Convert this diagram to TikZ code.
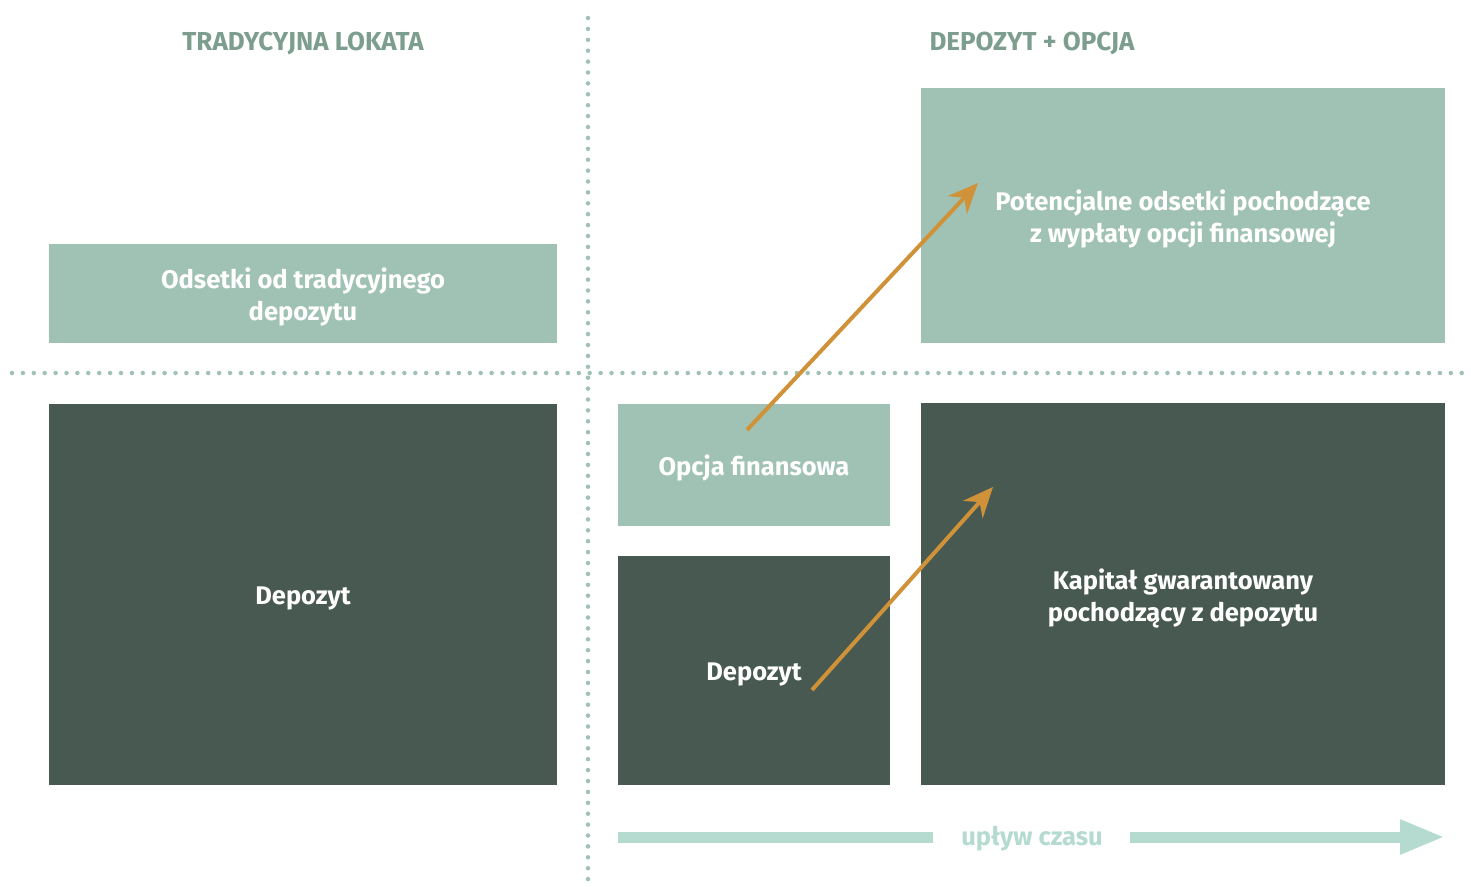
\documentclass[tikz,border=0pt]{standalone}
\usepackage{fontspec}
\setmainfont{Fira Sans}
\usetikzlibrary{arrows.meta}
\definecolor{darkg}{HTML}{475950}
\definecolor{lightg}{HTML}{A0C2B4}
\definecolor{titleg}{HTML}{7D9E8F}
\definecolor{dotg}{HTML}{9FC2B4}
\definecolor{orangeA}{HTML}{D09238}
\definecolor{timeg}{HTML}{B5DAD0}
\tikzset{
  box/.style={inner sep=0pt, align=center, text=white, font=\fontsize{25.5}{32}\selectfont\bfseries},
  darkbox/.style={box, fill=darkg},
  lightbox/.style={box, fill=lightg},
  titletext/.style={text=titleg, font=\fontsize{26}{30}\selectfont\bfseries},
  dotline/.style={draw=dotg, line width=4.5pt, line cap=round, dash pattern=on 0pt off 10.9pt},
  growarrow/.style={draw=orangeA, line width=4pt, -{Stealth[length=30pt,width=26pt]}},
  timeline/.style={draw=timeg, line width=11pt},
}
\begin{document}
\begin{tikzpicture}[x=1pt,y=-1pt]
\useasboundingbox (0,0) rectangle (1471,886);
% dotted separators
\coordinate (vtop) at (588,18);
\coordinate (vbot) at (588,886);
\coordinate (hl) at (12,373);
\coordinate (hr) at (1471,373);
\draw[dotline] (vtop) -- (vbot);
\draw[dotline] (hl) -- (hr);
% titles
\node[titletext] (t1) at (303,43) {TRADYCYJNA LOKATA};
\node[titletext] (t2) at (1032,43) {DEPOZYT + OPCJA};
% left
\node[lightbox, minimum width=508, minimum height=99] (odsetki) at (303,293.5) {};
\node[box] (odsetkit) at (303,296.5) {Odsetki od tradycyjnego\\depozytu};
\node[darkbox, minimum width=508, minimum height=381] (dep1) at (303,594.5) {};
\node[box] (dep1t) at (303,598) {Depozyt};
% right middle
\node[lightbox, minimum width=272, minimum height=122] (opcja) at (754,465) {};
\node[box] (opcjat) at (754,468) {Opcja finansowa};
\node[darkbox, minimum width=272, minimum height=229] (dep2) at (754,670.5) {};
\node[box] (dep2t) at (754,674) {Depozyt};
% right
\node[lightbox, minimum width=524, minimum height=255] (pot) at (1183,215.5) {};
\node[box] (pott) at (1183,219) {Potencjalne odsetki pochodzące\\z wypłaty opcji finansowej};
\node[darkbox, minimum width=524, minimum height=382] (kap) at (1183,594) {};
\node[box] (kapt) at (1183,598) {Kapitał gwarantowany\\pochodzący z depozytu};
% orange arrows
\coordinate (a1s) at (747,430);
\coordinate (a1e) at (978,183);
\coordinate (a2s) at (812,690);
\coordinate (a2e) at (993,487);
\draw[growarrow] (a1s) -- (a1e);
\draw[growarrow] (a2s) -- (a2e);
% time arrow
\node[text=timeg, font=\fontsize{25.5}{30}\selectfont\bfseries] (time) at (1032,839) {upływ czasu};
\coordinate (tl) at (618,837);
\coordinate (tlm) at (933,837);
\coordinate (trm) at (1130,837);
\coordinate (tr) at (1445,837);
\draw[timeline] (tl) -- (tlm);
\draw[timeline, -{Triangle[length=45pt,width=32pt]}] (trm) -- (tr);
\end{tikzpicture}
\end{document}
